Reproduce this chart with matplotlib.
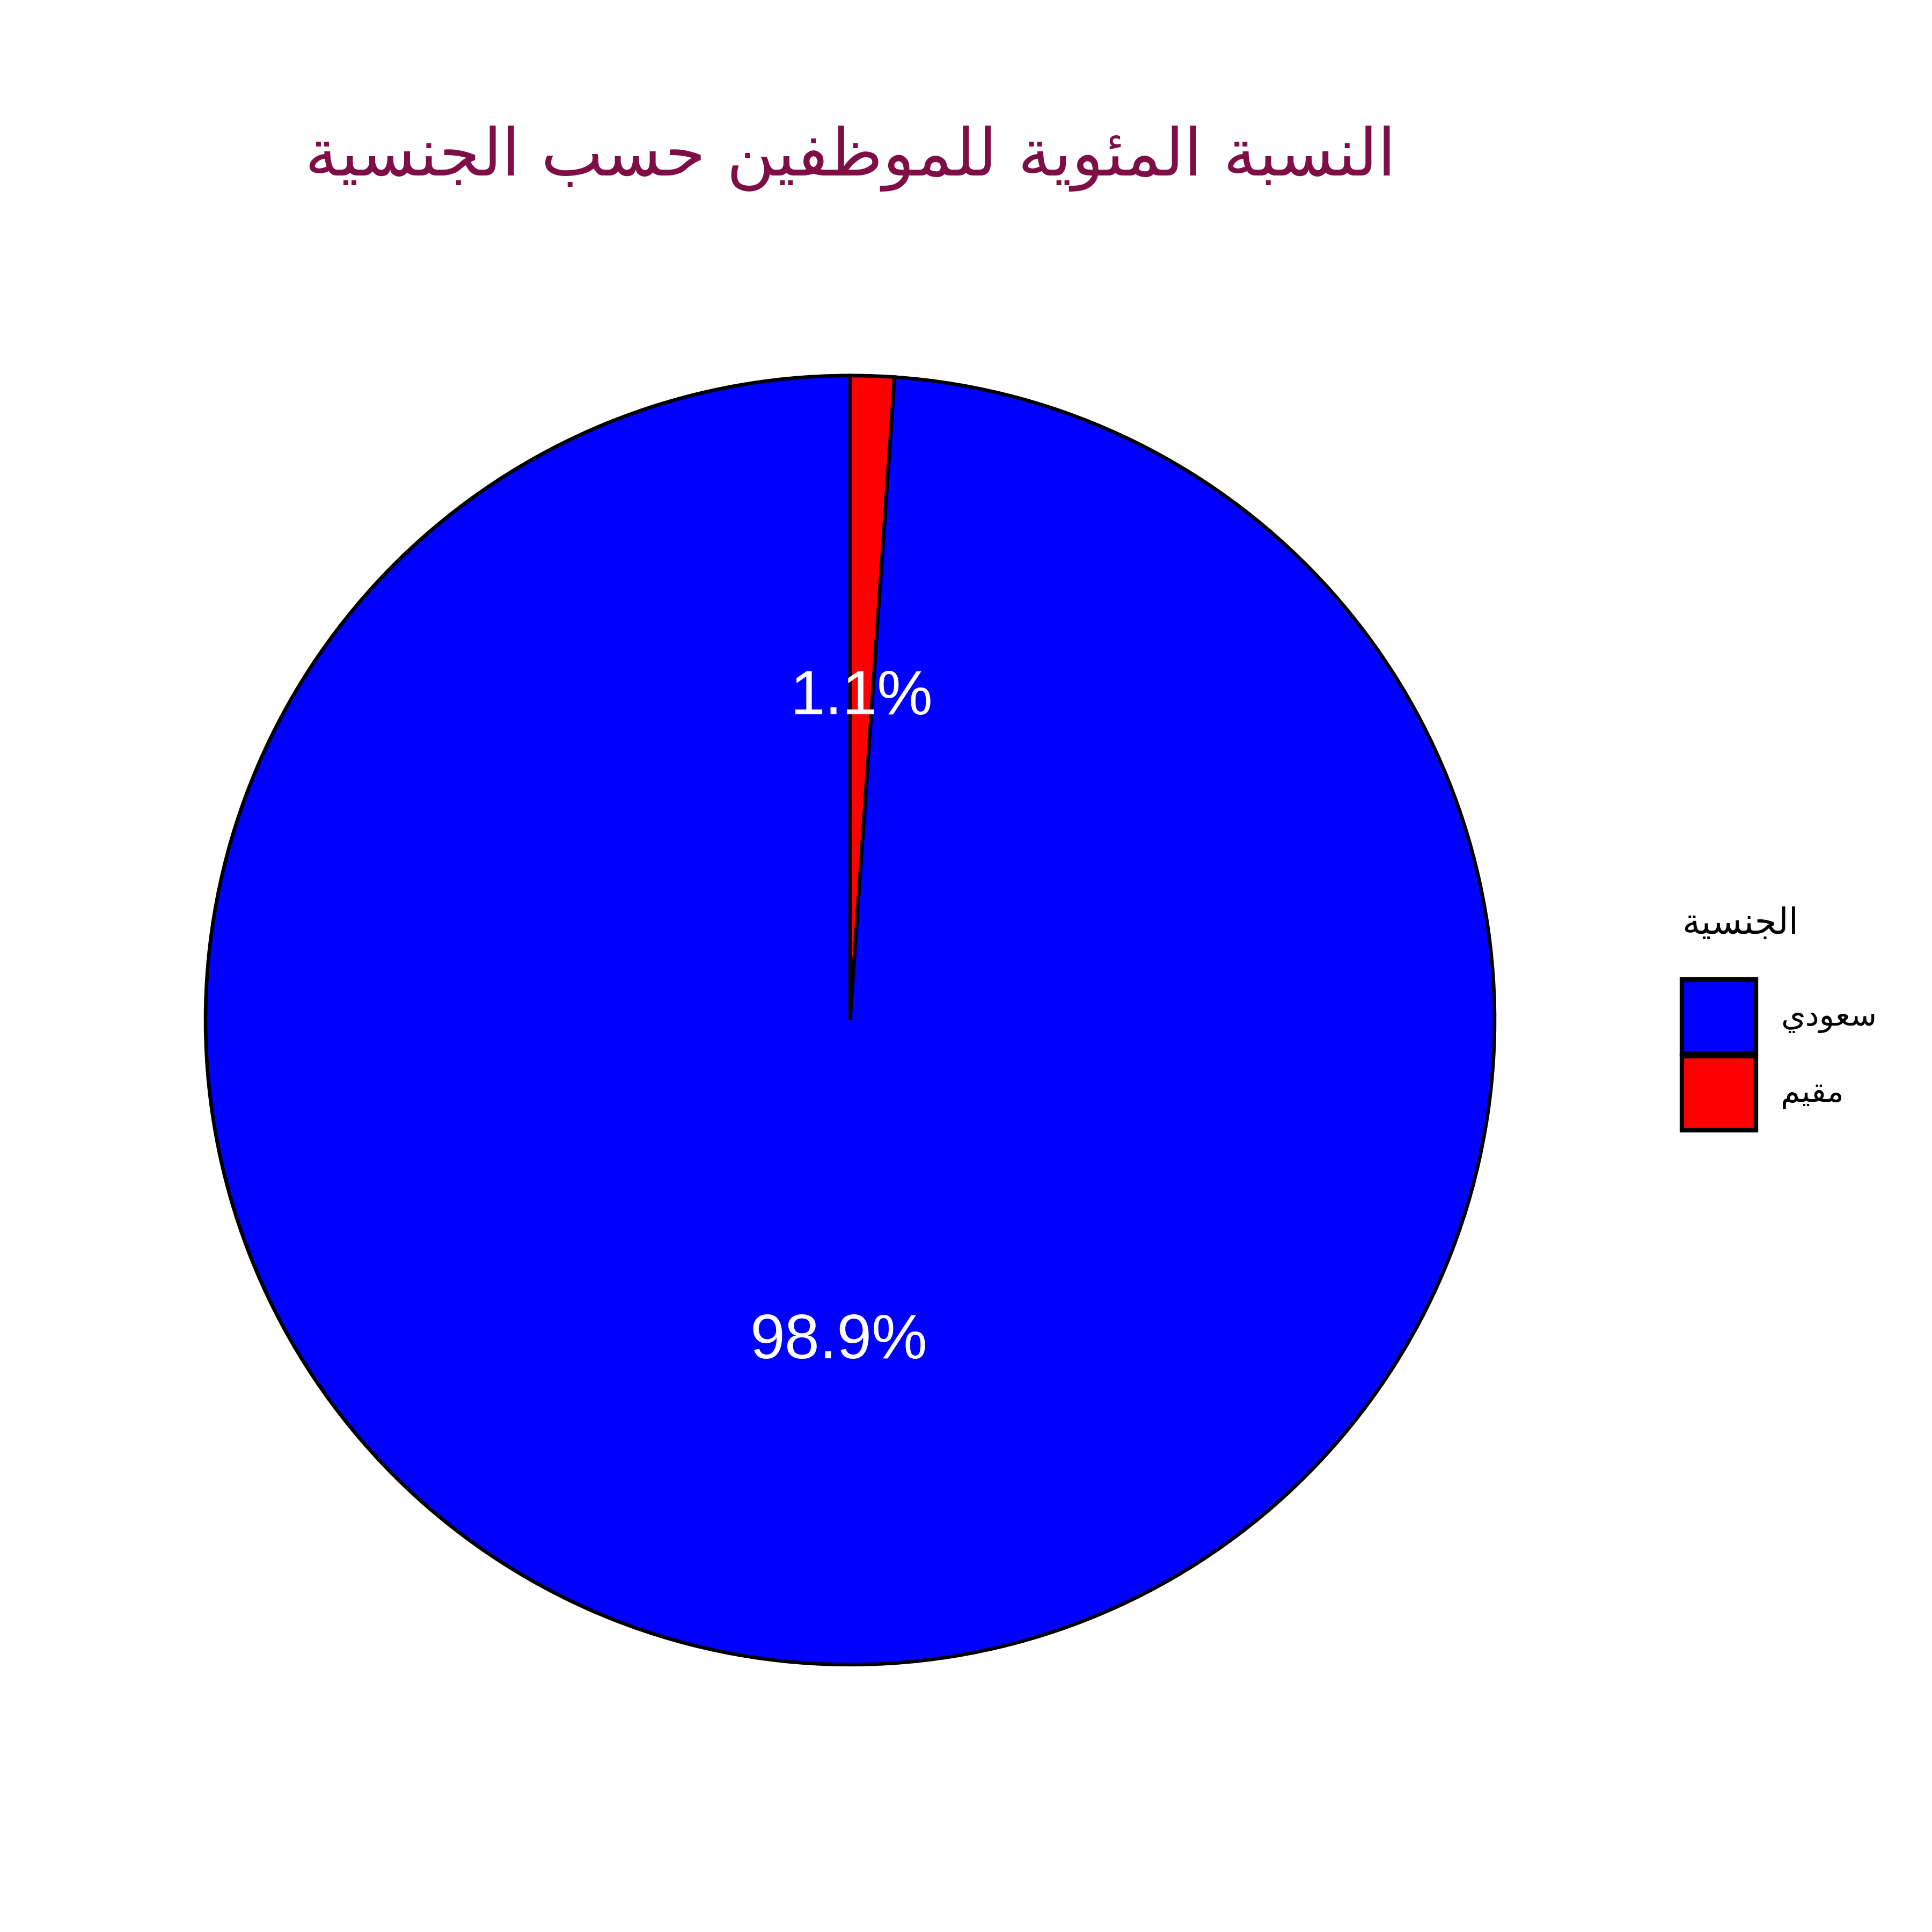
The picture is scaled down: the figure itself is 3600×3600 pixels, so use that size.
import matplotlib
matplotlib.use("Agg")
import matplotlib.pyplot as plt
from matplotlib.patches import Patch

# data
categories = ["سعودي", "مقيم"]
shares = [98.9, 1.1]
slice_colors = ["#0000FF", "#FF0000"]
chart_title = "النسبة المئوية للموظفين حسب الجنسية"
legend_title = "الجنسية"

# minimal arabic shaping: (isolated, final, initial, medial)
FORMS = {
    "\u0627": ("\uFE8D", "\uFE8E", None, None),
    "\u0644": ("\uFEDD", "\uFEDE", "\uFEDF", "\uFEE0"),
    "\u0646": ("\uFEE5", "\uFEE6", "\uFEE7", "\uFEE8"),
    "\u0633": ("\uFEB1", "\uFEB2", "\uFEB3", "\uFEB4"),
    "\u0628": ("\uFE8F", "\uFE90", "\uFE91", "\uFE92"),
    "\u0629": ("\uFE93", "\uFE94", None, None),
    "\u0645": ("\uFEE1", "\uFEE2", "\uFEE3", "\uFEE4"),
    "\u0626": ("\uFE89", "\uFE8A", "\uFE8B", "\uFE8C"),
    "\u0648": ("\uFEED", "\uFEEE", None, None),
    "\u064A": ("\uFEF1", "\uFEF2", "\uFEF3", "\uFEF4"),
    "\u0638": ("\uFEC5", "\uFEC6", "\uFEC7", "\uFEC8"),
    "\u0641": ("\uFED1", "\uFED2", "\uFED3", "\uFED4"),
    "\u062D": ("\uFEA1", "\uFEA2", "\uFEA3", "\uFEA4"),
    "\u062C": ("\uFE9D", "\uFE9E", "\uFE9F", "\uFEA0"),
    "\u0639": ("\uFEC9", "\uFECA", "\uFECB", "\uFECC"),
    "\u062F": ("\uFEA9", "\uFEAA", None, None),
    "\u0642": ("\uFED5", "\uFED6", "\uFED7", "\uFED8"),
}


def shape(text):
    out = []
    for i, ch in enumerate(text):
        if ch not in FORMS:
            out.append(ch)
            continue
        prev = text[i - 1] if i > 0 else ""
        nxt = text[i + 1] if i + 1 < len(text) else ""
        join_prev = prev in FORMS and FORMS[prev][2] is not None
        join_next = nxt in FORMS and FORMS[ch][2] is not None
        iso, fin, ini, med = FORMS[ch]
        if join_prev and join_next:
            out.append(med)
        elif join_prev:
            out.append(fin)
        elif join_next:
            out.append(ini)
        else:
            out.append(iso)
    return "".join(reversed(out))


plt.rcParams["font.family"] = ["DejaVu Sans"]

fig = plt.figure(figsize=(12, 12), dpi=300)
fig.patch.set_facecolor("white")

cx, cy, r = 0.44, 0.472, 0.3336
ax = fig.add_axes([cx - r, cy - r, 2 * r, 2 * r])

# draw the small slice first, clockwise from 12 o'clock
wedges, _, autotexts = ax.pie(
    shares[::-1],
    colors=slice_colors[::-1],
    startangle=90,
    counterclock=False,
    autopct="%.1f%%",
    pctdistance=0.5,
    wedgeprops=dict(edgecolor="black", linewidth=1.6),
    textprops=dict(color="white", fontsize=28, family=["Liberation Sans", "DejaVu Sans"]),
)
ax.set_xlim(-1.0, 1.0)
ax.set_ylim(-1.0, 1.0)
ax.set_aspect("equal")

fig.text(cx, 0.918, shape(chart_title), ha="center", va="center",
         fontsize=29.5, color="#800E46")

# legend: title as separate text, keys below
fig.text(0.8705, 0.522, shape(legend_title), ha="left", va="center",
         fontsize=16, color="black")

handles = [Patch(facecolor=c, edgecolor="black", linewidth=2.0) for c in slice_colors]
leg = fig.legend(
    handles, [shape(c) for c in categories],
    loc="upper left", bbox_to_anchor=(0.8705, 0.493),
    frameon=False, fontsize=14,
    handlelength=2.37, handleheight=3.26, labelspacing=0.08,
    handletextpad=0.79, borderpad=0, borderaxespad=0,
)

plt.savefig("out.png", dpi=300, facecolor="white")
